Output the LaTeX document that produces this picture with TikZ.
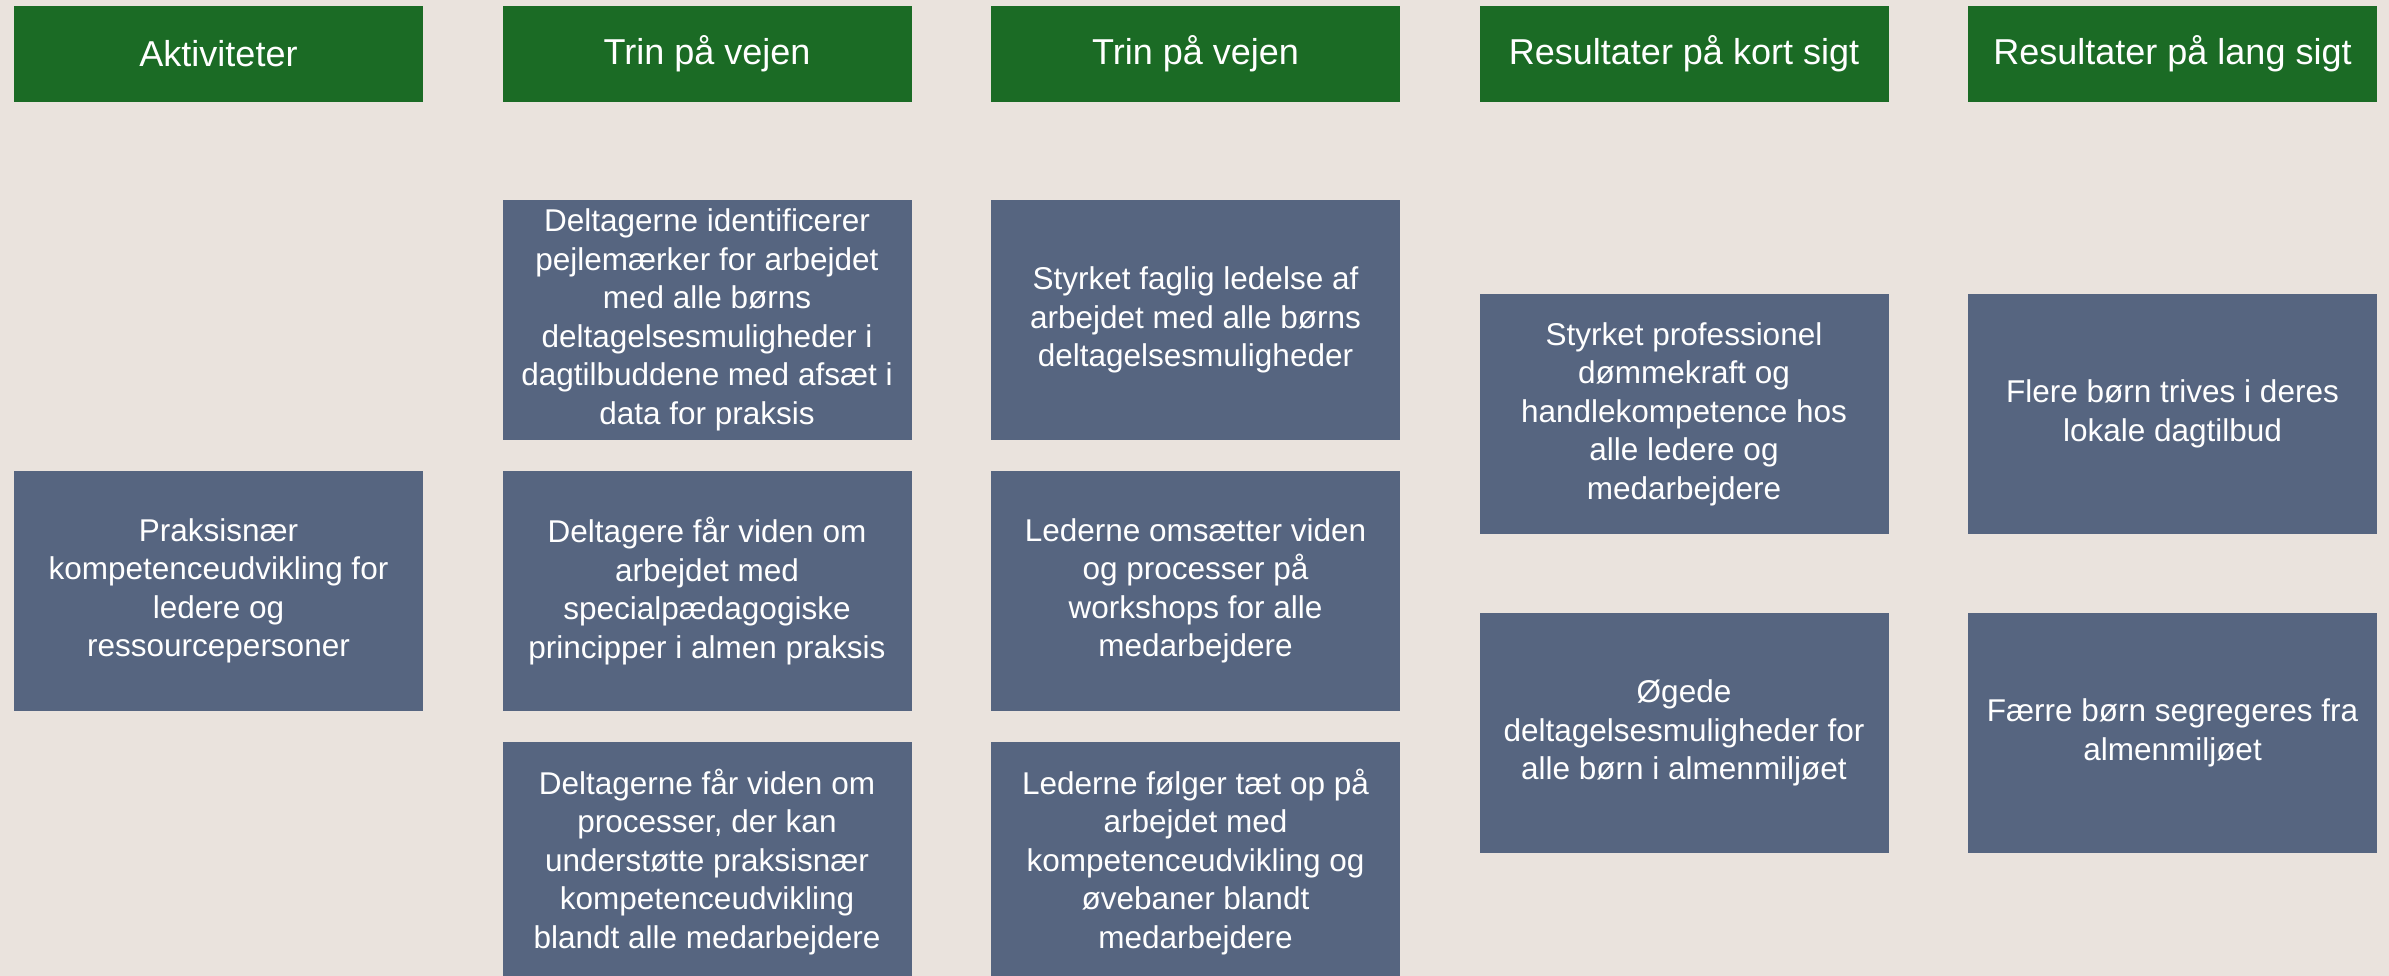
\documentclass[tikz,border=0pt]{standalone}
\usepackage{fontspec}
\setmainfont{Liberation Sans}
\usetikzlibrary{positioning}
\definecolor{bgsand}{RGB}{234,227,221}
\definecolor{hdrgreen}{RGB}{27,107,37}
\definecolor{boxslate}{RGB}{86,101,128}

\begin{document}
\begin{tikzpicture}[x=1pt, y=-1pt,
  header/.style={fill=hdrgreen, text=white, minimum width=409pt, minimum height=96pt,
    inner sep=0pt, font=\fontsize{36}{40}\selectfont},
  stepbox/.style={fill=boxslate, text=white, minimum width=409pt, minimum height=240pt,
    inner sep=0pt, align=center, font=\fontsize{31.5}{38.5}\selectfont}]
  % Page and background
  \useasboundingbox (0,0) rectangle (2389,976);
  \fill[bgsand] (0,0) rectangle (2389,976);

  % Column geometry
  \def\cx{218.5}
  \def\cgap{488.5}

  % Column headers
  \foreach \i/\t in {0/Aktiviteter, 1/Trin på vejen, 2/Trin på vejen,
                     3/Resultater på kort sigt, 4/Resultater på lang sigt} {
    \pgfmathsetmacro{\xx}{\cx+\i*\cgap}
    \node[header] (head\i) at (\xx,54) {\t};
  }

  % Activity
  \node[stepbox] (akt) at (\cx,591)
    {Praksisnær\\kompetenceudvikling for\\ledere og\\ressourcepersoner};

  % First column of steps
  \pgfmathsetmacro{\xa}{\cx+1*\cgap}
  \node[stepbox] (trinA1) at (\xa,320)
    {Deltagerne identificerer\\pejlemærker for arbejdet\\med alle børns\\deltagelsesmuligheder i\\dagtilbuddene med afsæt i\\data for praksis};
  \node[stepbox] (trinA2) at (\xa,591)
    {Deltagere får viden om\\arbejdet med\\specialpædagogiske\\principper i almen praksis};
  \node[stepbox] (trinA3) at (\xa,862)
    {Deltagerne får viden om\\processer, der kan\\understøtte praksisnær\\kompetenceudvikling\\blandt alle medarbejdere};

  % Second column of steps
  \pgfmathsetmacro{\xb}{\cx+2*\cgap}
  \node[stepbox] (trinB1) at (\xb,320)
    {Styrket faglig ledelse af\\arbejdet med alle børns\\deltagelsesmuligheder};
  \node[stepbox] (trinB2) at (\xb,591)
    {Lederne omsætter viden\\og processer på\\workshops for alle\\medarbejdere};
  \node[stepbox] (trinB3) at (\xb,862)
    {Lederne følger tæt op på\\arbejdet med\\kompetenceudvikling og\\øvebaner blandt\\medarbejdere};

  % Short term results
  \pgfmathsetmacro{\xc}{\cx+3*\cgap}
  \node[stepbox] (kort1) at (\xc,414)
    {Styrket professionel\\dømmekraft og\\handlekompetence hos\\alle ledere og\\medarbejdere};
  \node[stepbox] (kort2) at (\xc,733)
    {Øgede\\deltagelsesmuligheder for\\alle børn i almenmiljøet};

  % Long term results
  \pgfmathsetmacro{\xd}{\cx+4*\cgap}
  \node[stepbox] (lang1) at (\xd,414)
    {Flere børn trives i deres\\lokale dagtilbud};
  \node[stepbox] (lang2) at (\xd,733)
    {Færre børn segregeres fra\\almenmiljøet};
\end{tikzpicture}
\end{document}
